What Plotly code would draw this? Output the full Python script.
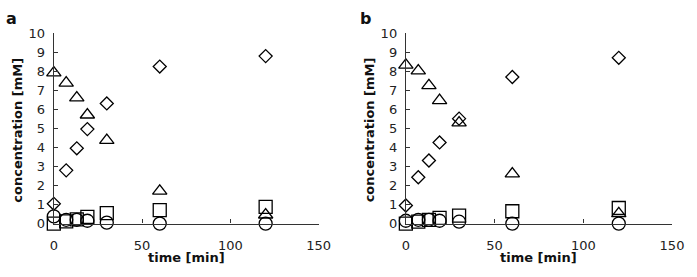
import plotly.graph_objects as go

time_min = [0, 7, 13, 19, 30, 60, 120]

a_diamond = [1.04, 2.80, 3.96, 4.97, 6.32, 8.26, 8.81]
a_triangle = [7.93, 7.40, 6.62, 5.72, 4.38, 1.71, 0.46]
a_square = [0.0, 0.12, 0.22, 0.35, 0.55, 0.71, 0.88]
a_circle = [0.38, 0.2, 0.2, 0.15, 0.05, 0.0, 0.0]

b_diamond = [0.95, 2.44, 3.32, 4.27, 5.52, 7.71, 8.72]
b_triangle = [8.34, 8.04, 7.26, 6.48, 5.30, 2.62, 0.53]
b_square = [0.0, 0.1, 0.2, 0.3, 0.42, 0.65, 0.82]
b_circle = [0.15, 0.2, 0.2, 0.15, 0.1, 0.0, 0.0]

x_ticks = [0, 50, 100, 150]
y_ticks = list(range(0, 11))

W, H = 697, 277
FONT = "DejaVu Sans, Arial, sans-serif"

fig = go.Figure()

series = [
    ("diamond-open", 10, "diamond"),
    ("triangle-up-open", 12.5, "triangle"),
    ("square-open", 13, "square"),
    ("circle-open", 13, "circle"),
]
panels = [
    ("x", "y", [a_diamond, a_triangle, a_square, a_circle]),
    ("x2", "y2", [b_diamond, b_triangle, b_square, b_circle]),
]
for xa, ya, vals in panels:
    for (sym, sz, name), v in zip(series, vals):
        fig.add_trace(go.Scatter(
            x=time_min, y=v, mode="markers", name=name, xaxis=xa, yaxis=ya,
            cliponaxis=False, showlegend=False,
            marker=dict(symbol=sym, size=sz, color="black",
                        line=dict(color="black", width=1.3)),
        ))

xdomA = [51 / W, 322 / W]
xdomB = [411.3 / W, 683.7 / W]
ydom = [48 / H, 249 / H]

axis_common = dict(showgrid=False, zeroline=False, showline=True,
                   linecolor="#333", linewidth=1.2,
                   tickfont=dict(family=FONT, size=13, color="#222"),
                   tickcolor="#333", tickwidth=1.2, ticklen=4, ticks="inside")

xcommon = dict(axis_common, range=[0, 150], tickvals=x_ticks,
               ticklabelstandoff=10)
ycommon = dict(axis_common, range=[0, 10], tickvals=y_ticks,
               ticklabelstandoff=5)

fig.update_layout(
    width=W, height=H, margin=dict(l=0, r=0, t=0, b=0),
    plot_bgcolor="white", paper_bgcolor="white",
    xaxis=dict(xcommon, domain=xdomA, anchor="y"),
    yaxis=dict(ycommon, domain=ydom, anchor="x"),
    xaxis2=dict(xcommon, domain=xdomB, anchor="y2"),
    yaxis2=dict(ycommon, domain=ydom, anchor="x2"),
)

ann_font = dict(family=FONT, size=13, color="#111")
for xc, xt, letter, lx in [((xdomA[0] + xdomA[1]) / 2, 14, "a", 8),
                           ((xdomB[0] + xdomB[1]) / 2, 375, "b", 370)]:
    fig.add_annotation(text="<b>time [min]</b>", x=xc, y=1 - 265 / H,
                       xref="paper", yref="paper", showarrow=False,
                       font=ann_font, xanchor="center", yanchor="middle")
    fig.add_annotation(text="<b>concentration [mM]</b>", x=xt / W,
                       y=1 - 130 / H, xref="paper", yref="paper",
                       showarrow=False, font=ann_font, textangle=-90,
                       xanchor="center", yanchor="middle")
    fig.add_annotation(text="<b>" + letter + "</b>", x=lx / W, y=1 - 12 / H,
                       xref="paper", yref="paper", showarrow=False,
                       font=dict(family=FONT, size=16, color="#111"),
                       xanchor="center", yanchor="middle")

fig.write_html("out.html", config={"displayModeBar": False},
               post_script="document.body.style.margin='0';"
                           "document.body.style.overflow='hidden';")
